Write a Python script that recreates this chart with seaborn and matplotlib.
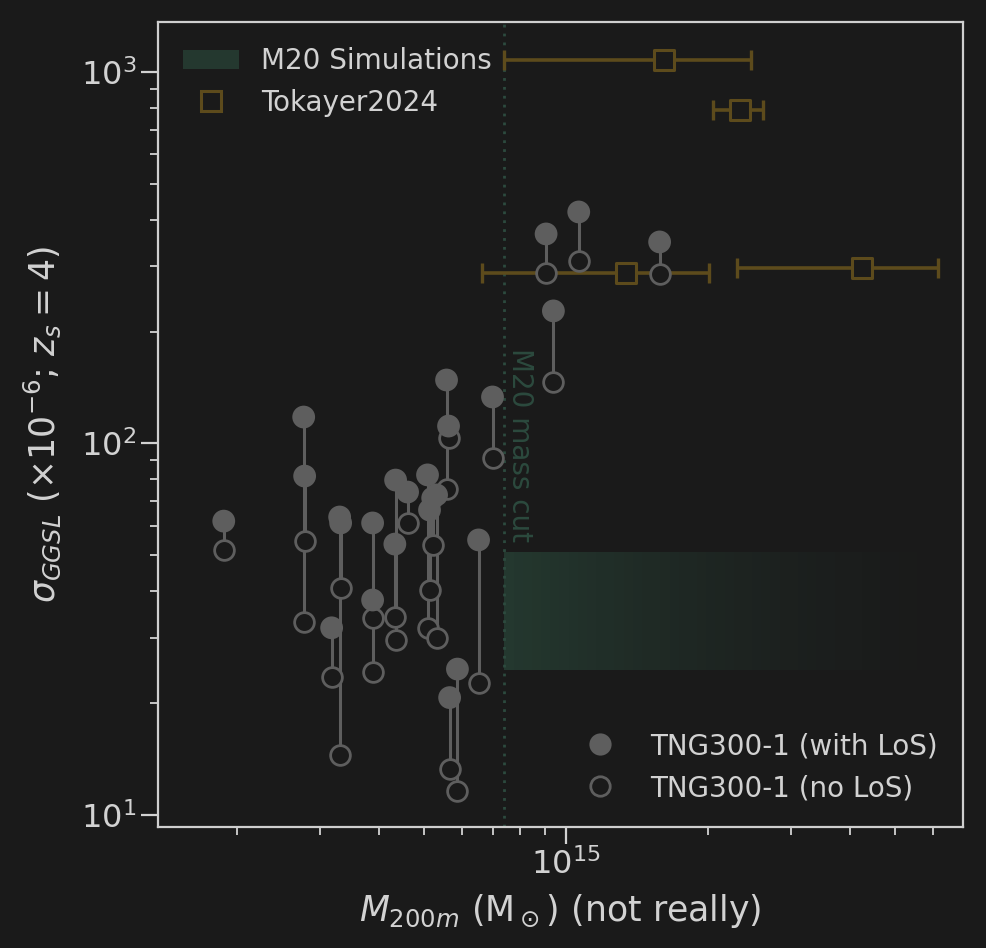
import numpy as np
import pandas as pd
import matplotlib
matplotlib.use("Agg")
import matplotlib.pyplot as plt
import seaborn as sns
from matplotlib.lines import Line2D
from matplotlib.patches import Patch

# ---------------- data ----------------
tng_mass = [1.876e14, 2.773e14, 2.786e14, 3.306e14, 3.322e14, 3.179e14, 3.884e14, 3.884e14,
            4.346e14, 4.33e14, 4.608e14, 5.08e14, 5.13e14, 5.21e14, 5.31e14, 5.575e14,
            5.63e14, 6.98e14, 6.52e14, 5.88e14, 5.66e14, 9.07e14, 1.064e15, 1.58e15, 9.40e14]
sigma_with_los = [61.8, 117.8, 81.7, 63.4, 61.1, 31.9, 61.1, 37.9,
                  79.7, 53.6, 74.0, 82.3, 66.2, 71.3, 72.7, 148.2,
                  111.4, 133.4, 55.0, 24.7, 20.7, 366.4, 419.9, 348.7, 227.4]
sigma_no_los = [51.7, 33.1, 54.7, 14.5, 40.8, 23.5, 24.3, 33.9,
                29.6, 34.1, 61.1, 31.9, 40.3, 53.3, 29.9, 75.4,
                103.5, 91.4, 22.7, 11.6, 13.3, 287.7, 309.9, 286.0, 146.4]

tok_mass = [1.617e15, 2.344e15, 1.341e15, 4.248e15]
tok_mass_lo = [7.40e14, 2.054e15, 6.64e14, 2.302e15]
tok_mass_hi = [2.474e15, 2.623e15, 2.007e15, 6.175e15]
tok_sigma = [1077, 790, 288.3, 297.4]

m20_mass_cut = 7.4e14
m20_sigma_lo = 24.5
m20_sigma_hi = 51.0

x_limits = (1.36e14, 6.96e15)
y_limits = (9.28, 1363)

# ---------------- style ----------------
BG = "#1a1a1a"
FG = "#d2d2d2"
SPINE = "#cfcfcf"
GRAY = "#5e5e5e"
GOLD = "#5d4b1c"
GREEN = "#24382f"
GREEN_TXT = "#2c4a3e"

sns.set_theme(style="dark", rc={
    "axes.facecolor": BG, "figure.facecolor": BG, "savefig.facecolor": BG,
    "axes.edgecolor": SPINE, "axes.labelcolor": FG, "text.color": FG,
    "xtick.color": FG, "ytick.color": FG, "axes.grid": False,
})
plt.rcParams["font.family"] = ["DejaVu Sans"]
plt.rcParams["mathtext.fontset"] = "dejavusans"

fig = plt.figure(figsize=(9.86, 9.48), dpi=100)
ax = fig.add_axes([0.1602, 0.1276, 0.8164, 0.8492])
ax.set_xscale("log")
ax.set_yscale("log")

# M20 band with fading gradient
N = 50
xmax = x_limits[1]
for i in range(N):
    x0 = m20_mass_cut * (xmax / m20_mass_cut) ** (i / N)
    x1 = m20_mass_cut * (xmax / m20_mass_cut) ** ((i + 1) / N)
    ax.fill_between([x0, x1], m20_sigma_lo, m20_sigma_hi, color=GREEN,
                    alpha=(1 - i / N) ** 1.6, linewidth=0, zorder=1)

ax.axvline(m20_mass_cut, color=GREEN_TXT, ls=(0, (1, 2.2)), lw=2.0, zorder=1)
ax.text(m20_mass_cut * 1.08, 181, "M20 mass cut", rotation=270, ha="center", va="top",
        color=GREEN_TXT, fontsize=20, zorder=1)

# Tokayer2024
xerr = [np.array(tok_mass) - np.array(tok_mass_lo), np.array(tok_mass_hi) - np.array(tok_mass)]
ax.errorbar(tok_mass, tok_sigma, xerr=xerr, fmt="none", ecolor=GOLD, elinewidth=2.6,
            capsize=7.5, capthick=2.4, zorder=2)
sns.scatterplot(x=tok_mass, y=tok_sigma, ax=ax, marker="s", s=14.5 ** 2,
                color=BG, edgecolor=GOLD, linewidth=2.2, zorder=3, legend=False)

# TNG300-1 pairs
ax.vlines(tng_mass, sigma_no_los, sigma_with_los, color=GRAY, lw=2.2, zorder=3)
sns.scatterplot(x=tng_mass, y=sigma_no_los, ax=ax, marker="o", s=14.2 ** 2,
                color=BG, edgecolor=GRAY, linewidth=2.0, zorder=4, legend=False)
sns.scatterplot(x=tng_mass, y=sigma_with_los, ax=ax, marker="o", s=16.4 ** 2,
                color=GRAY, edgecolor="none", linewidth=0, zorder=5, legend=False)

ax.set_xlim(*x_limits)
ax.set_ylim(*y_limits)

# axes styling
for sp in ax.spines.values():
    sp.set_visible(True)
    sp.set_color(SPINE)
    sp.set_linewidth(1.6)
ax.tick_params(which="major", direction="out", length=12, width=1.6, colors=FG,
               labelsize=23, bottom=True, left=True)
ax.tick_params(which="minor", direction="out", length=6, width=1.3, colors=FG,
               bottom=True, left=True)

ax.set_xlabel(r"$M_{200m}$ (M$_\odot$) (not really)", fontsize=25, color=FG, labelpad=8)
ax.set_ylabel(r"$\sigma_{GGSL}$ ($\times10^{-6}$; $z_s=4$)", fontsize=25, color=FG, labelpad=13)

# legends
h1 = Patch(facecolor=GREEN, edgecolor="none", label="M20 Simulations")
h2 = Line2D([], [], ls="none", marker="s", ms=14, mfc=BG, mec=GOLD, mew=2.2, label="Tokayer2024")
leg1 = ax.legend(handles=[h1, h2], loc="upper left", frameon=False, fontsize=20, labelcolor=FG)
ax.add_artist(leg1)
h3 = Line2D([], [], ls="none", marker="o", ms=16, mfc=GRAY, mec="none", label="TNG300-1 (with LoS)")
h4 = Line2D([], [], ls="none", marker="o", ms=14, mfc=BG, mec=GRAY, mew=2.0, label="TNG300-1 (no LoS)")
ax.legend(handles=[h3, h4], loc="lower right", frameon=False, fontsize=20, labelcolor=FG)

fig.savefig("out.png", dpi=100, facecolor=BG)
